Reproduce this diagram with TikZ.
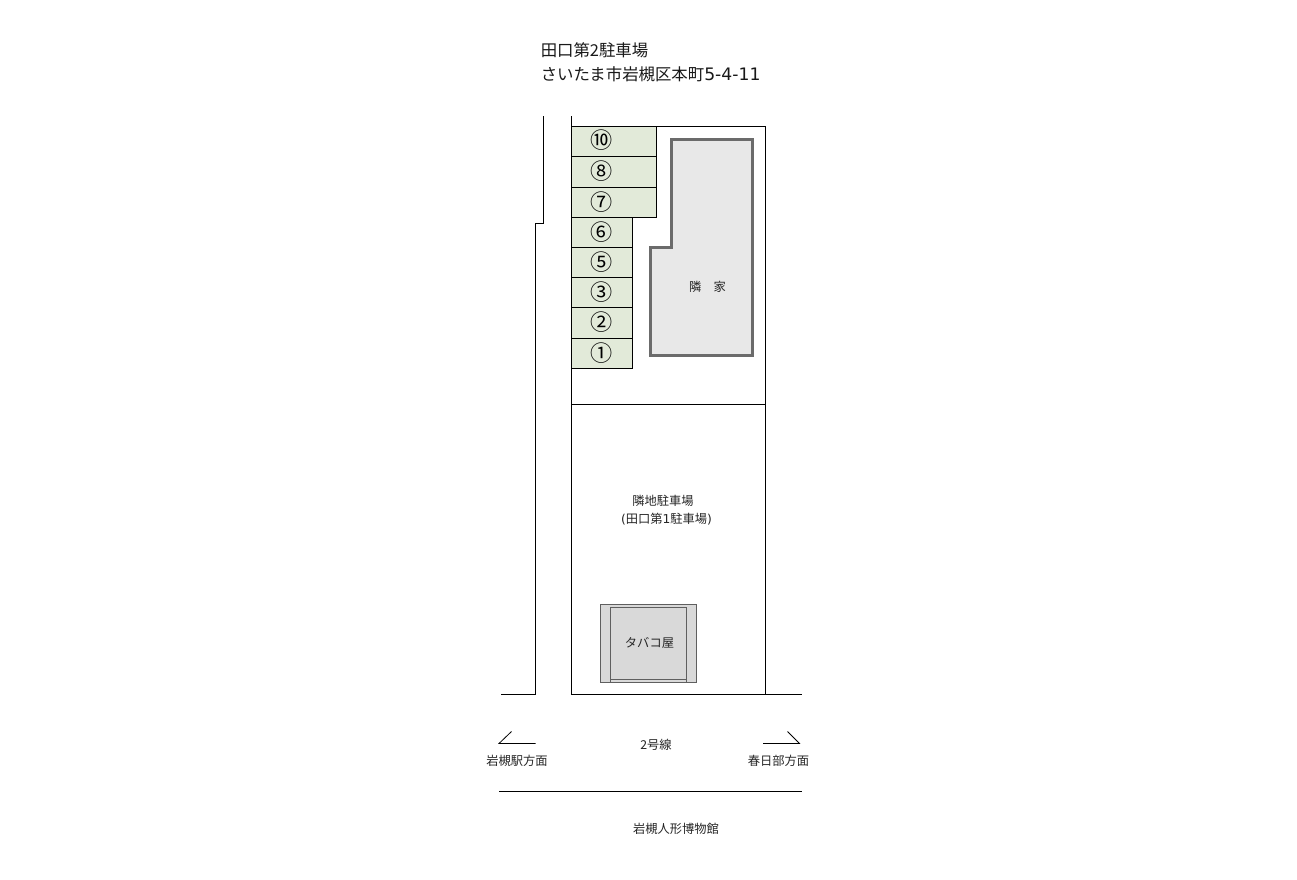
\documentclass[tikz,border=0pt]{standalone}
\usepackage{fontspec}
\setmainfont{Noto Sans CJK JP}
\newfontfamily\latinpart{DejaVu Sans}
\definecolor{spotgreen}{HTML}{E2EAD9}
\definecolor{housegrey}{HTML}{6B6B6B}
\definecolor{shopgrey}{HTML}{5F5F5F}
\tikzset{
  ln/.style={draw=black,line width=0.75pt},
  spot/.style={draw=black,line width=0.75pt,fill=spotgreen},
  num/.style={inner sep=0pt,font=\fontsize{16.6}{17}\selectfont},
  lbl/.style={inner sep=0pt,text=black!85,font=\fontsize{9.2}{11}\selectfont},
  ttl/.style={inner sep=0pt,anchor=west,text=black!90,font=\fontsize{12.3}{14}\selectfont},
  house/.style={draw=housegrey,line width=2.25pt,fill=black!9,miter limit=10},
  shop/.style={draw=shopgrey,line width=0.75pt,fill=black!15}
}
\begin{document}
\begin{tikzpicture}[x=0.75pt,y=-0.75pt]
\useasboundingbox (0,0) rectangle (1297,879);
\fill[white] (0,0) rectangle (1297,879);
% road and lots
\draw[ln] (543.5,116) -- (543.5,223.5) -- (535.5,223.5) -- (535.5,694.5) -- (501,694.5);
\draw[ln] (571.5,116) -- (571.5,694.5) -- (802,694.5);
\draw[ln] (571.5,126.5) -- (765.5,126.5) -- (765.5,694.5);
\draw[ln] (571.5,404.5) -- (765.5,404.5);
% parking spaces
\draw[spot] (571.5,126.5) rectangle (656.5,156.5);
\draw[spot] (571.5,156.5) rectangle (656.5,187.5);
\draw[spot] (571.5,187.5) rectangle (656.5,217.5);
\draw[spot] (571.5,217.5) rectangle (632.5,247.5);
\draw[spot] (571.5,247.5) rectangle (632.5,277.5);
\draw[spot] (571.5,277.5) rectangle (632.5,307.5);
\draw[spot] (571.5,307.5) rectangle (632.5,338.5);
\draw[spot] (571.5,338.5) rectangle (632.5,368.5);
\node[num] (p10) at (601.7,140.5) {⑩};
\node[num] (p8) at (601.7,171) {⑧};
\node[num] (p7) at (601.7,202) {⑦};
\node[num] (p6) at (601.7,232.3) {⑥};
\node[num] (p5) at (601.7,262.3) {⑤};
\node[num] (p3) at (601.7,292.3) {③};
\node[num] (p2) at (601.7,322.3) {②};
\node[num] (p1) at (601.7,353) {①};
% neighbour house
\draw[house] (671,139.5) -- (752.5,139.5) -- (752.5,355.5) -- (650.5,355.5) -- (650.5,247.5) -- (671,247.5) -- cycle;
\node[lbl] (house) at (707.5,286.5) {隣　家};
% tobacco shop
\draw[shop] (600.5,604.5) rectangle (696.5,682.5);
\draw[shop] (610.5,607.5) rectangle (686.5,682.5);
\draw[shop] (610.5,679.5) -- (686.5,679.5);
\node[lbl] (shop) at (649.5,642.5) {タバコ屋};
% labels
\node[ttl] (t1) at (540.5,50) {田口第2駐車場};
\node[ttl] (t2) at (540.5,74) {さいたま市岩槻区本町{\latinpart\fontsize{12.9}{14}\selectfont 5-4-11}};
\node[lbl] (lot1) at (663,501) {隣地駐車場};
\node[lbl] (lot2) at (666.5,519) {{\latinpart (}田口第{\latinpart 1}駐車場{\latinpart )}};
\node[lbl] (road) at (656,744.5) {2号線};
\node[lbl] (west) at (517,760.5) {岩槻駅方面};
\node[lbl] (east) at (778.5,760.5) {春日部方面};
\node[lbl] (museum) at (676,828.5) {岩槻人形博物館};
% direction marks and far road edge
\draw[line width=0.6pt] (535.5,743.5) -- (499,743.5) -- (511.5,731.5);
\draw[line width=0.6pt] (763,743.5) -- (799.5,743.5) -- (787.5,731.5);
\draw[ln] (499,791.5) -- (802,791.5);
\end{tikzpicture}
\end{document}
